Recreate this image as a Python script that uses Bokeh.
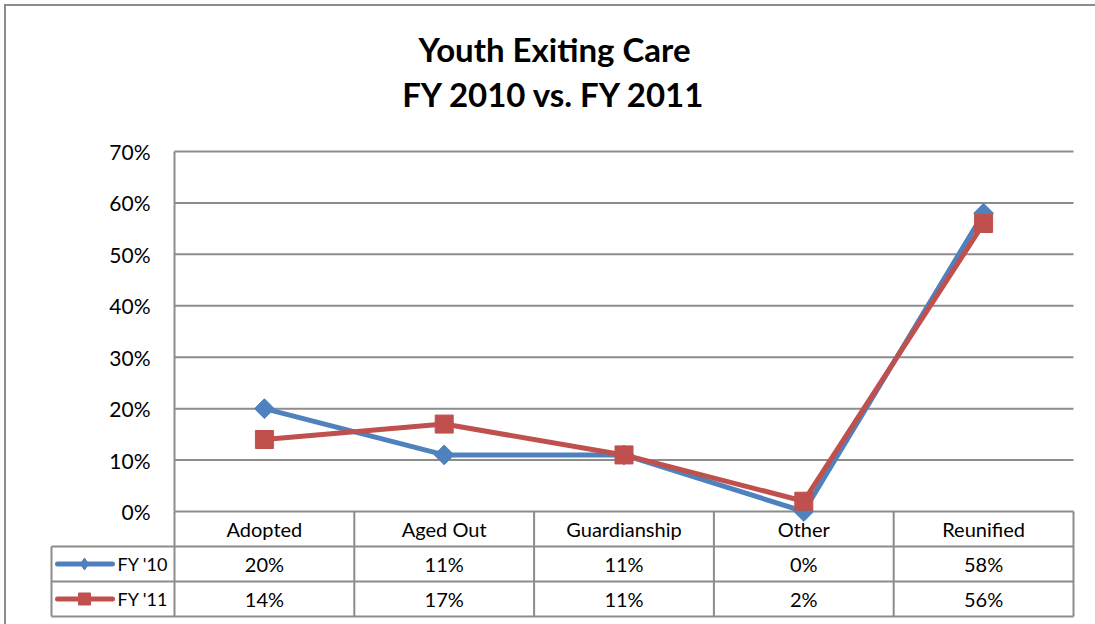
import math
from bokeh.plotting import figure
from bokeh.layouts import column, row
from bokeh.models import Range1d, Div
from bokeh.core.properties import value
from bokeh.embed import file_html
from bokeh.resources import INLINE

# ---------------- data ----------------
categories = ["Adopted", "Aged Out", "Guardianship", "Other", "Reunified"]
series_names = ["FY '10", "FY '11"]
fy10 = [0.20, 0.11, 0.11, 0.00, 0.58]
fy11 = [0.14, 0.17, 0.11, 0.02, 0.56]
y_ticks = [0.0, 0.1, 0.2, 0.3, 0.4, 0.5, 0.6, 0.7]
title_lines = ["Youth Exiting Care", "FY 2010 vs. FY 2011"]

# ---------------- style ----------------
BLUE = "#4F81BD"
RED = "#C0504D"
GRID = "#8C8C8C"
FONT = "Lato"
OFF = 6                     # space taken by the outer border (left / top)
W = 1095 - OFF
H = 624 - OFF
CAT_PX = 179.8              # pixel width of one category column
ROW_PX = 35.0               # pixel height of one table row
PX_Y = 0.7 / 360.0          # value per pixel on the y scale
n = len(categories)
xc = [i + 0.5 for i in range(n)]
bounds = [i + 1 for i in range(n)]
y_max = y_ticks[-1]

def px_x(dx):
    return dx / CAT_PX

# frame covers page x 49..1075, y 6..618 ; x = 0 is the value axis (page x 174)
p = figure(width=W, height=H, output_backend="svg", toolbar_location=None,
           title=None,
           x_range=Range1d(px_x(-125), n + px_x(2)),
           y_range=Range1d(y_max - 467 * PX_Y, y_max + 145 * PX_Y),
           min_border_left=49 - OFF, min_border_right=20,
           min_border_top=0, min_border_bottom=6,
           x_axis_location=None, y_axis_location=None)
p.extra_y_ranges = {"table": Range1d(-2 / ROW_PX, 3 + 505 / ROW_PX)}
p.outline_line_color = None
p.grid.visible = False
TB = "table"

# value axis: grid lines, axis line, tick labels
p.segment(x0=[0] * len(y_ticks), y0=y_ticks, x1=[n] * len(y_ticks), y1=y_ticks,
          line_color=GRID, line_width=2)
p.segment(x0=[0], y0=[0], x1=[0], y1=[y_max], line_color=GRID, line_width=2)
p.text(x=[px_x(-24)] * len(y_ticks), y=y_ticks,
       text=[f"{round(t * 100)}%" for t in y_ticks], text_align="right",
       text_baseline="middle", text_font=value(FONT), text_font_size="21px",
       text_color="black")

# title
p.text(x=[px_x(554 - 174)] * 2, y=[y_max + 102.5 * PX_Y, y_max + 57.5 * PX_Y],
       text=title_lines, text_align="center", text_baseline="middle",
       text_font=value(FONT), text_font_size="33px", text_font_style="bold",
       text_color="black")

# ---------------- data table ----------------
x_box = px_x(-123)
p.segment(x0=[0], y0=[0], x1=[0], y1=[3], line_color=GRID, line_width=2,
          y_range_name=TB)
p.segment(x0=[x_box] * 3, y0=[0, 1, 2], x1=[n] * 3, y1=[0, 1, 2],
          line_color=GRID, line_width=2, y_range_name=TB)
p.segment(x0=[x_box] + bounds, y0=[0] * (n + 1), x1=[x_box] + bounds,
          y1=[2] + [3] * n, line_color=GRID, line_width=2, y_range_name=TB)
p.text(x=xc, y=[2.5] * n, text=categories, text_align="center",
       text_baseline="middle", text_font=value(FONT), text_font_size="20px",
       text_color="black", y_range_name=TB)
row_vals = [fy10, fy11]
row_y = [1.5, 0.5]
for vals, ry in zip(row_vals, row_y):
    p.text(x=xc, y=[ry] * n, text=[f"{round(v * 100)}%" for v in vals],
           text_align="center", text_baseline="middle", text_font=value(FONT),
           text_font_size="20px", text_color="black", y_range_name=TB)

# legend keys in the table's first column
key_colors = [BLUE, RED]
p.segment(x0=[px_x(57 - 174)] * 2, y0=row_y, x1=[px_x(112 - 174)] * 2, y1=row_y,
          line_color=key_colors, line_width=5, line_cap="round", y_range_name=TB)
p.scatter([px_x(84 - 174)], [row_y[0]], marker="diamond", size=12,
          fill_color=BLUE, line_color=BLUE, y_range_name=TB)
p.scatter([px_x(84 - 174)], [row_y[1]], marker="square", size=12,
          fill_color=RED, line_color=RED, y_range_name=TB)
p.text(x=[px_x(117 - 174)] * 2, y=row_y, text=series_names, text_align="left",
       text_baseline="middle", text_font=value(FONT), text_font_size="18px",
       text_color="black", y_range_name=TB)

# ---------------- series ----------------
p.line(xc, fy10, line_width=5, line_color=BLUE)
p.scatter(xc, fy10, marker="square", angle=math.pi / 4, size=14,
          fill_color=BLUE, line_color=BLUE)
p.line(xc, fy11, line_width=5, line_color=RED)
p.scatter(xc, fy11, marker="square", size=18, fill_color=RED, line_color=RED)

# ---------------- outer border (left / top) ----------------
top_bar = row(Div(text="", width=4, height=2, margin=0),
              Div(text="", width=1091, height=2, margin=0,
                  styles={"background-color": GRID}))
body = row(Div(text="", width=4, height=H, margin=0),
           Div(text="", width=2, height=H, margin=0,
               styles={"background-color": GRID}),
           p)
layout = column(Div(text="", width=1095, height=4, margin=0), top_bar, body,
                spacing=0)
open("out.html", "w").write(file_html(layout, INLINE))
